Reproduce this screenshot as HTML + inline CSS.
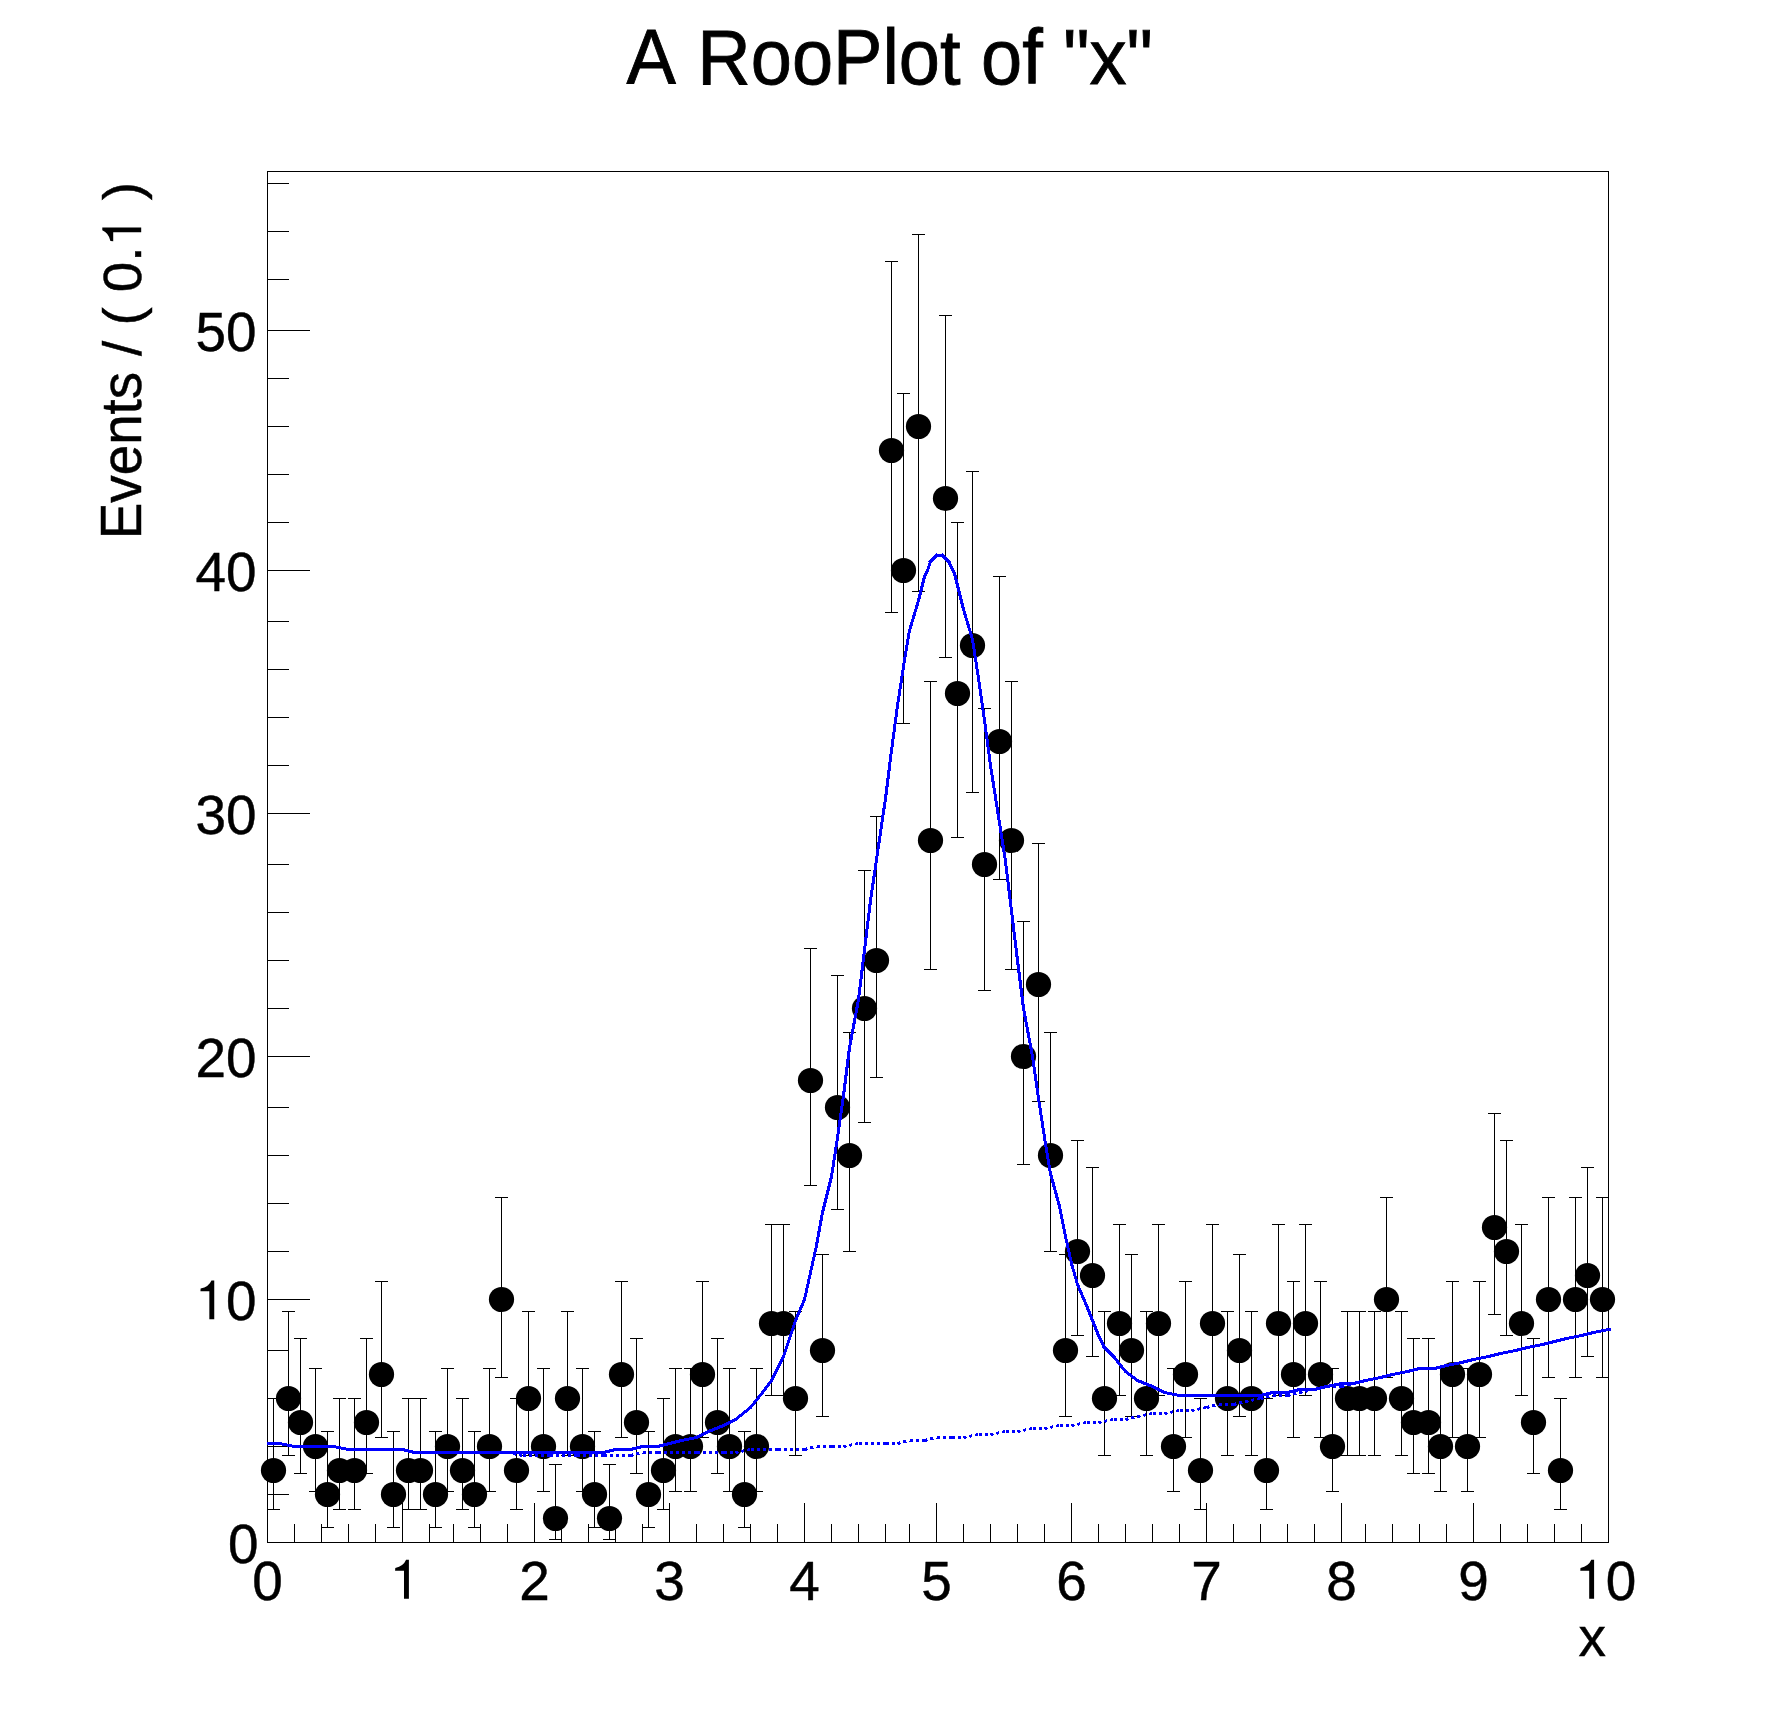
<!DOCTYPE html>
<html><head><meta charset="utf-8"><title>A RooPlot of "x"</title>
<style>html,body{margin:0;padding:0;background:#fff}body{width:1788px;height:1716px;overflow:hidden}svg{display:block}</style>
</head><body>
<svg width="1788" height="1716" viewBox="0 0 1788 1716">
<rect x="0" y="0" width="1788" height="1716" fill="#fff"/>
<g stroke="#000" stroke-width="1" fill="none" shape-rendering="crispEdges">
<rect x="267.5" y="171.5" width="1341" height="1371"/>
<path d="M267.5 1543V1503M294.5 1543V1524M321.5 1543V1524M348.5 1543V1524M375.5 1543V1524M402.5 1543V1503M429.5 1543V1524M453.5 1543V1524M480.5 1543V1524M507.5 1543V1524M534.5 1543V1503M561.5 1543V1524M588.5 1543V1524M615.5 1543V1524M642.5 1543V1524M669.5 1543V1503M696.5 1543V1524M723.5 1543V1524M750.5 1543V1524M777.5 1543V1524M804.5 1543V1503M831.5 1543V1524M858.5 1543V1524M885.5 1543V1524M909.5 1543V1524M936.5 1543V1503M963.5 1543V1524M990.5 1543V1524M1017.5 1543V1524M1044.5 1543V1524M1071.5 1543V1503M1098.5 1543V1524M1125.5 1543V1524M1152.5 1543V1524M1179.5 1543V1524M1206.5 1543V1503M1233.5 1543V1524M1260.5 1543V1524M1287.5 1543V1524M1314.5 1543V1524M1341.5 1543V1503M1365.5 1543V1524M1392.5 1543V1524M1419.5 1543V1524M1446.5 1543V1524M1473.5 1543V1503M1500.5 1543V1524M1527.5 1543V1524M1554.5 1543V1524M1581.5 1543V1524M1608.5 1543V1503M267 1542.5H310M267 1494.5H289M267 1446.5H289M267 1398.5H289M267 1350.5H289M267 1299.5H310M267 1251.5H289M267 1203.5H289M267 1155.5H289M267 1107.5H289M267 1056.5H310M267 1008.5H289M267 960.5H289M267 912.5H289M267 864.5H289M267 813.5H310M267 765.5H289M267 717.5H289M267 669.5H289M267 621.5H289M267 570.5H310M267 522.5H289M267 474.5H289M267 426.5H289M267 378.5H289M267 330.5H310M267 279.5H289M267 231.5H289M267 183.5H289M273.5 1398V1510M267 1398.5H280M267 1509.5H280M288.5 1311V1456M282 1311.5H295M282 1455.5H295M300.5 1338V1474M294 1338.5H307M294 1473.5H307M315.5 1368V1492M309 1368.5H322M309 1491.5H322M327.5 1431V1528M321 1431.5H334M321 1527.5H334M339.5 1398V1510M333 1398.5H346M333 1509.5H346M354.5 1398V1510M348 1398.5H361M348 1509.5H361M366.5 1338V1474M360 1338.5H373M360 1473.5H373M381.5 1281V1438M375 1281.5H388M375 1437.5H388M393.5 1431V1528M387 1431.5H400M387 1527.5H400M408.5 1398V1510M402 1398.5H415M402 1509.5H415M420.5 1398V1510M414 1398.5H427M414 1509.5H427M435.5 1431V1528M429 1431.5H442M429 1527.5H442M447.5 1368V1492M441 1368.5H454M441 1491.5H454M462.5 1398V1510M456 1398.5H469M456 1509.5H469M474.5 1431V1528M468 1431.5H481M468 1527.5H481M489.5 1368V1492M483 1368.5H496M483 1491.5H496M501.5 1197V1378M495 1197.5H508M495 1377.5H508M516.5 1398V1510M510 1398.5H523M510 1509.5H523M528.5 1311V1456M522 1311.5H535M522 1455.5H535M543.5 1368V1492M537 1368.5H550M537 1491.5H550M555.5 1464V1540M549 1464.5H562M549 1539.5H562M567.5 1311V1456M561 1311.5H574M561 1455.5H574M582.5 1368V1492M576 1368.5H589M576 1491.5H589M594.5 1431V1528M588 1431.5H601M588 1527.5H601M609.5 1464V1540M603 1464.5H616M603 1539.5H616M621.5 1281V1438M615 1281.5H628M615 1437.5H628M636.5 1338V1474M630 1338.5H643M630 1473.5H643M648.5 1431V1528M642 1431.5H655M642 1527.5H655M663.5 1398V1510M657 1398.5H670M657 1509.5H670M675.5 1368V1492M669 1368.5H682M669 1491.5H682M690.5 1368V1492M684 1368.5H697M684 1491.5H697M702.5 1281V1438M696 1281.5H709M696 1437.5H709M717.5 1338V1474M711 1338.5H724M711 1473.5H724M729.5 1368V1492M723 1368.5H736M723 1491.5H736M744.5 1431V1528M738 1431.5H751M738 1527.5H751M756.5 1368V1492M750 1368.5H763M750 1491.5H763M771.5 1224V1396M765 1224.5H778M765 1395.5H778M783.5 1224V1396M777 1224.5H790M777 1395.5H790M795.5 1311V1456M789 1311.5H802M789 1455.5H802M810.5 948V1186M804 948.5H817M804 1185.5H817M822.5 1254V1417M816 1254.5H829M816 1416.5H829M837.5 975V1210M831 975.5H844M831 1209.5H844M849.5 1032V1252M843 1032.5H856M843 1251.5H856M864.5 870V1123M858 870.5H871M858 1122.5H871M876.5 816V1078M870 816.5H883M870 1077.5H883M891.5 261V613M885 261.5H898M885 612.5H898M903.5 393V724M897 393.5H910M897 723.5H910M918.5 234V592M912 234.5H925M912 591.5H925M930.5 681V970M924 681.5H937M924 969.5H937M945.5 315V658M939 315.5H952M939 657.5H952M957.5 522V838M951 522.5H964M951 837.5H964M972.5 471V793M966 471.5H979M966 792.5H979M984.5 708V991M978 708.5H991M978 990.5H991M999.5 576V880M993 576.5H1006M993 879.5H1006M1011.5 681V970M1005 681.5H1018M1005 969.5H1018M1023.5 921V1165M1017 921.5H1030M1017 1164.5H1030M1038.5 843V1102M1032 843.5H1045M1032 1101.5H1045M1050.5 1032V1252M1044 1032.5H1057M1044 1251.5H1057M1065.5 1254V1417M1059 1254.5H1072M1059 1416.5H1072M1077.5 1140V1336M1071 1140.5H1084M1071 1335.5H1084M1092.5 1167V1357M1086 1167.5H1099M1086 1356.5H1099M1104.5 1311V1456M1098 1311.5H1111M1098 1455.5H1111M1119.5 1224V1396M1113 1224.5H1126M1113 1395.5H1126M1131.5 1254V1417M1125 1254.5H1138M1125 1416.5H1138M1146.5 1311V1456M1140 1311.5H1153M1140 1455.5H1153M1158.5 1224V1396M1152 1224.5H1165M1152 1395.5H1165M1173.5 1368V1492M1167 1368.5H1180M1167 1491.5H1180M1185.5 1281V1438M1179 1281.5H1192M1179 1437.5H1192M1200.5 1398V1510M1194 1398.5H1207M1194 1509.5H1207M1212.5 1224V1396M1206 1224.5H1219M1206 1395.5H1219M1227.5 1311V1456M1221 1311.5H1234M1221 1455.5H1234M1239.5 1254V1417M1233 1254.5H1246M1233 1416.5H1246M1251.5 1311V1456M1245 1311.5H1258M1245 1455.5H1258M1266.5 1398V1510M1260 1398.5H1273M1260 1509.5H1273M1278.5 1224V1396M1272 1224.5H1285M1272 1395.5H1285M1293.5 1281V1438M1287 1281.5H1300M1287 1437.5H1300M1305.5 1224V1396M1299 1224.5H1312M1299 1395.5H1312M1320.5 1281V1438M1314 1281.5H1327M1314 1437.5H1327M1332.5 1368V1492M1326 1368.5H1339M1326 1491.5H1339M1347.5 1311V1456M1341 1311.5H1354M1341 1455.5H1354M1359.5 1311V1456M1353 1311.5H1366M1353 1455.5H1366M1374.5 1311V1456M1368 1311.5H1381M1368 1455.5H1381M1386.5 1197V1378M1380 1197.5H1393M1380 1377.5H1393M1401.5 1311V1456M1395 1311.5H1408M1395 1455.5H1408M1413.5 1338V1474M1407 1338.5H1420M1407 1473.5H1420M1428.5 1338V1474M1422 1338.5H1435M1422 1473.5H1435M1440.5 1368V1492M1434 1368.5H1447M1434 1491.5H1447M1452.5 1281V1438M1446 1281.5H1459M1446 1437.5H1459M1467.5 1368V1492M1461 1368.5H1474M1461 1491.5H1474M1479.5 1281V1438M1473 1281.5H1486M1473 1437.5H1486M1494.5 1113V1315M1488 1113.5H1501M1488 1314.5H1501M1506.5 1140V1336M1500 1140.5H1513M1500 1335.5H1513M1521.5 1224V1396M1515 1224.5H1528M1515 1395.5H1528M1533.5 1338V1474M1527 1338.5H1540M1527 1473.5H1540M1548.5 1197V1378M1542 1197.5H1555M1542 1377.5H1555M1560.5 1398V1510M1554 1398.5H1567M1554 1509.5H1567M1575.5 1197V1378M1569 1197.5H1582M1569 1377.5H1582M1587.5 1167V1357M1581 1167.5H1594M1581 1356.5H1594M1602.5 1197V1378M1596 1197.5H1609M1596 1377.5H1609"/>
</g>
<g fill="#000">
<circle cx="273.5" cy="1470.5" r="12.6"/>
<circle cx="288.5" cy="1398.5" r="12.6"/>
<circle cx="300.5" cy="1422.5" r="12.6"/>
<circle cx="315.5" cy="1446.5" r="12.6"/>
<circle cx="327.5" cy="1494.5" r="12.6"/>
<circle cx="339.5" cy="1470.5" r="12.6"/>
<circle cx="354.5" cy="1470.5" r="12.6"/>
<circle cx="366.5" cy="1422.5" r="12.6"/>
<circle cx="381.5" cy="1374.5" r="12.6"/>
<circle cx="393.5" cy="1494.5" r="12.6"/>
<circle cx="408.5" cy="1470.5" r="12.6"/>
<circle cx="420.5" cy="1470.5" r="12.6"/>
<circle cx="435.5" cy="1494.5" r="12.6"/>
<circle cx="447.5" cy="1446.5" r="12.6"/>
<circle cx="462.5" cy="1470.5" r="12.6"/>
<circle cx="474.5" cy="1494.5" r="12.6"/>
<circle cx="489.5" cy="1446.5" r="12.6"/>
<circle cx="501.5" cy="1299.5" r="12.6"/>
<circle cx="516.5" cy="1470.5" r="12.6"/>
<circle cx="528.5" cy="1398.5" r="12.6"/>
<circle cx="543.5" cy="1446.5" r="12.6"/>
<circle cx="555.5" cy="1518.5" r="12.6"/>
<circle cx="567.5" cy="1398.5" r="12.6"/>
<circle cx="582.5" cy="1446.5" r="12.6"/>
<circle cx="594.5" cy="1494.5" r="12.6"/>
<circle cx="609.5" cy="1518.5" r="12.6"/>
<circle cx="621.5" cy="1374.5" r="12.6"/>
<circle cx="636.5" cy="1422.5" r="12.6"/>
<circle cx="648.5" cy="1494.5" r="12.6"/>
<circle cx="663.5" cy="1470.5" r="12.6"/>
<circle cx="675.5" cy="1446.5" r="12.6"/>
<circle cx="690.5" cy="1446.5" r="12.6"/>
<circle cx="702.5" cy="1374.5" r="12.6"/>
<circle cx="717.5" cy="1422.5" r="12.6"/>
<circle cx="729.5" cy="1446.5" r="12.6"/>
<circle cx="744.5" cy="1494.5" r="12.6"/>
<circle cx="756.5" cy="1446.5" r="12.6"/>
<circle cx="771.5" cy="1323.5" r="12.6"/>
<circle cx="783.5" cy="1323.5" r="12.6"/>
<circle cx="795.5" cy="1398.5" r="12.6"/>
<circle cx="810.5" cy="1080.5" r="12.6"/>
<circle cx="822.5" cy="1350.5" r="12.6"/>
<circle cx="837.5" cy="1107.5" r="12.6"/>
<circle cx="849.5" cy="1155.5" r="12.6"/>
<circle cx="864.5" cy="1008.5" r="12.6"/>
<circle cx="876.5" cy="960.5" r="12.6"/>
<circle cx="891.5" cy="450.5" r="12.6"/>
<circle cx="903.5" cy="570.5" r="12.6"/>
<circle cx="918.5" cy="426.5" r="12.6"/>
<circle cx="930.5" cy="840.5" r="12.6"/>
<circle cx="945.5" cy="498.5" r="12.6"/>
<circle cx="957.5" cy="693.5" r="12.6"/>
<circle cx="972.5" cy="645.5" r="12.6"/>
<circle cx="984.5" cy="864.5" r="12.6"/>
<circle cx="999.5" cy="741.5" r="12.6"/>
<circle cx="1011.5" cy="840.5" r="12.6"/>
<circle cx="1023.5" cy="1056.5" r="12.6"/>
<circle cx="1038.5" cy="984.5" r="12.6"/>
<circle cx="1050.5" cy="1155.5" r="12.6"/>
<circle cx="1065.5" cy="1350.5" r="12.6"/>
<circle cx="1077.5" cy="1251.5" r="12.6"/>
<circle cx="1092.5" cy="1275.5" r="12.6"/>
<circle cx="1104.5" cy="1398.5" r="12.6"/>
<circle cx="1119.5" cy="1323.5" r="12.6"/>
<circle cx="1131.5" cy="1350.5" r="12.6"/>
<circle cx="1146.5" cy="1398.5" r="12.6"/>
<circle cx="1158.5" cy="1323.5" r="12.6"/>
<circle cx="1173.5" cy="1446.5" r="12.6"/>
<circle cx="1185.5" cy="1374.5" r="12.6"/>
<circle cx="1200.5" cy="1470.5" r="12.6"/>
<circle cx="1212.5" cy="1323.5" r="12.6"/>
<circle cx="1227.5" cy="1398.5" r="12.6"/>
<circle cx="1239.5" cy="1350.5" r="12.6"/>
<circle cx="1251.5" cy="1398.5" r="12.6"/>
<circle cx="1266.5" cy="1470.5" r="12.6"/>
<circle cx="1278.5" cy="1323.5" r="12.6"/>
<circle cx="1293.5" cy="1374.5" r="12.6"/>
<circle cx="1305.5" cy="1323.5" r="12.6"/>
<circle cx="1320.5" cy="1374.5" r="12.6"/>
<circle cx="1332.5" cy="1446.5" r="12.6"/>
<circle cx="1347.5" cy="1398.5" r="12.6"/>
<circle cx="1359.5" cy="1398.5" r="12.6"/>
<circle cx="1374.5" cy="1398.5" r="12.6"/>
<circle cx="1386.5" cy="1299.5" r="12.6"/>
<circle cx="1401.5" cy="1398.5" r="12.6"/>
<circle cx="1413.5" cy="1422.5" r="12.6"/>
<circle cx="1428.5" cy="1422.5" r="12.6"/>
<circle cx="1440.5" cy="1446.5" r="12.6"/>
<circle cx="1452.5" cy="1374.5" r="12.6"/>
<circle cx="1467.5" cy="1446.5" r="12.6"/>
<circle cx="1479.5" cy="1374.5" r="12.6"/>
<circle cx="1494.5" cy="1227.5" r="12.6"/>
<circle cx="1506.5" cy="1251.5" r="12.6"/>
<circle cx="1521.5" cy="1323.5" r="12.6"/>
<circle cx="1533.5" cy="1422.5" r="12.6"/>
<circle cx="1548.5" cy="1299.5" r="12.6"/>
<circle cx="1560.5" cy="1470.5" r="12.6"/>
<circle cx="1575.5" cy="1299.5" r="12.6"/>
<circle cx="1587.5" cy="1275.5" r="12.6"/>
<circle cx="1602.5" cy="1299.5" r="12.6"/>
</g>
<clipPath id="c"><rect x="267" y="171.5" width="1344" height="1371"/></clipPath>
<g clip-path="url(#c)" stroke="#0000ff" stroke-width="3" fill="none" stroke-linejoin="bevel" shape-rendering="crispEdges">
<path stroke-linecap="square" d="M267.5 1443.5L279.5 1443.5M279.5 1443.5L294.5 1446.5M294.5 1446.5L306.5 1446.5M306.5 1446.5L321.5 1446.5M321.5 1446.5L333.5 1446.5M333.5 1446.5L348.5 1449.5M348.5 1449.5L360.5 1449.5M360.5 1449.5L375.5 1449.5M375.5 1449.5L387.5 1449.5M387.5 1449.5L402.5 1449.5M402.5 1449.5L414.5 1452.5M414.5 1452.5L429.5 1452.5M429.5 1452.5L441.5 1452.5M441.5 1452.5L453.5 1452.5M453.5 1452.5L468.5 1452.5M468.5 1452.5L480.5 1452.5M480.5 1452.5L495.5 1452.5M495.5 1452.5L507.5 1452.5M507.5 1452.5L522.5 1452.5M522.5 1452.5L534.5 1452.5M534.5 1452.5L549.5 1452.5M549.5 1452.5L561.5 1452.5M561.5 1452.5L576.5 1452.5M576.5 1452.5L588.5 1452.5M588.5 1452.5L603.5 1452.5M603.5 1452.5L615.5 1449.5M615.5 1449.5L630.5 1449.5M630.5 1449.5L642.5 1446.5M642.5 1446.5L657.5 1446.5M657.5 1446.5L669.5 1443.5M669.5 1443.5L681.5 1440.5M681.5 1440.5L696.5 1437.5M696.5 1437.5L708.5 1431.5M708.5 1431.5L723.5 1425.5M723.5 1425.5L735.5 1419.5M735.5 1419.5L750.5 1407.5M750.5 1407.5L762.5 1392.5M762.5 1392.5L771.5 1380.5M771.5 1380.5L777.5 1368.5M777.5 1368.5L783.5 1356.5M783.5 1356.5L789.5 1338.5M789.5 1338.5L795.5 1320.5M795.5 1320.5L804.5 1299.5M804.5 1299.5L810.5 1272.5M810.5 1272.5L816.5 1245.5M816.5 1245.5L822.5 1212.5M822.5 1212.5L831.5 1176.5M831.5 1176.5L837.5 1137.5M837.5 1137.5L843.5 1095.5M843.5 1095.5L849.5 1047.5M849.5 1047.5L858.5 999.5M858.5 999.5L870.5 900.5M870.5 900.5L885.5 798.5M885.5 798.5L891.5 750.5M891.5 750.5L897.5 705.5M897.5 705.5L903.5 666.5M903.5 666.5L909.5 630.5M909.5 630.5L918.5 600.5M918.5 600.5L921.5 588.5M921.5 588.5L924.5 576.5M924.5 576.5L927.5 570.5M927.5 570.5L930.5 561.5M930.5 561.5L933.5 558.5M933.5 558.5L936.5 555.5M936.5 555.5L942.5 555.5M942.5 555.5L945.5 558.5M945.5 558.5L948.5 561.5M948.5 561.5L951.5 567.5M951.5 567.5L954.5 573.5M954.5 573.5L957.5 585.5M957.5 585.5L963.5 609.5M963.5 609.5L972.5 639.5M972.5 639.5L978.5 678.5M978.5 678.5L984.5 720.5M984.5 720.5L990.5 765.5M990.5 765.5L1005.5 861.5M1005.5 861.5L1017.5 960.5M1017.5 960.5L1023.5 1008.5M1023.5 1008.5L1032.5 1056.5M1032.5 1056.5L1038.5 1098.5M1038.5 1098.5L1044.5 1137.5M1044.5 1137.5L1050.5 1173.5M1050.5 1173.5L1059.5 1206.5M1059.5 1206.5L1065.5 1236.5M1065.5 1236.5L1071.5 1263.5M1071.5 1263.5L1077.5 1284.5M1077.5 1284.5L1086.5 1305.5M1086.5 1305.5L1092.5 1320.5M1092.5 1320.5L1098.5 1335.5M1098.5 1335.5L1104.5 1347.5M1104.5 1347.5L1113.5 1356.5M1113.5 1356.5L1125.5 1371.5M1125.5 1371.5L1137.5 1380.5M1137.5 1380.5L1152.5 1386.5M1152.5 1386.5L1164.5 1392.5M1164.5 1392.5L1179.5 1395.5M1179.5 1395.5L1191.5 1395.5M1191.5 1395.5L1206.5 1395.5M1206.5 1395.5L1218.5 1395.5M1218.5 1395.5L1233.5 1395.5M1233.5 1395.5L1245.5 1395.5M1245.5 1395.5L1260.5 1395.5M1260.5 1395.5L1272.5 1392.5M1272.5 1392.5L1287.5 1392.5M1287.5 1392.5L1299.5 1389.5M1299.5 1389.5L1314.5 1389.5M1314.5 1389.5L1326.5 1386.5M1326.5 1386.5L1341.5 1383.5M1341.5 1383.5L1353.5 1383.5M1353.5 1383.5L1365.5 1380.5M1365.5 1380.5L1380.5 1377.5M1380.5 1377.5L1392.5 1374.5M1392.5 1374.5L1407.5 1371.5M1407.5 1371.5L1419.5 1368.5M1419.5 1368.5L1434.5 1368.5M1434.5 1368.5L1446.5 1365.5M1446.5 1365.5L1461.5 1362.5M1461.5 1362.5L1473.5 1359.5M1473.5 1359.5L1488.5 1356.5M1488.5 1356.5L1500.5 1353.5M1500.5 1353.5L1515.5 1350.5M1515.5 1350.5L1527.5 1347.5M1527.5 1347.5L1542.5 1344.5M1542.5 1344.5L1554.5 1341.5M1554.5 1341.5L1566.5 1338.5M1566.5 1338.5L1581.5 1335.5M1581.5 1335.5L1593.5 1332.5M1593.5 1332.5L1608.5 1329.5M1608.5 1329.5L1609.5 1329.3"/>
<path stroke-dasharray="3 3" d="M267.5 1443.5L279.5 1443.5M279.5 1443.5L294.5 1446.5M294.5 1446.5L306.5 1446.5M306.5 1446.5L321.5 1446.5M321.5 1446.5L333.5 1446.5M333.5 1446.5L348.5 1449.5M348.5 1449.5L360.5 1449.5M360.5 1449.5L375.5 1449.5M375.5 1449.5L387.5 1449.5M387.5 1449.5L402.5 1449.5M402.5 1449.5L414.5 1452.5M414.5 1452.5L429.5 1452.5M429.5 1452.5L441.5 1452.5M441.5 1452.5L453.5 1452.5M453.5 1452.5L468.5 1452.5M468.5 1452.5L480.5 1452.5M480.5 1452.5L495.5 1452.5M495.5 1452.5L507.5 1452.5M507.5 1452.5L522.5 1455.5M522.5 1455.5L534.5 1455.5M534.5 1455.5L549.5 1455.5M549.5 1455.5L561.5 1455.5M561.5 1455.5L576.5 1455.5M576.5 1455.5L588.5 1455.5M588.5 1455.5L603.5 1455.5M603.5 1455.5L615.5 1455.5M615.5 1455.5L630.5 1455.5M630.5 1455.5L642.5 1452.5M642.5 1452.5L657.5 1452.5M657.5 1452.5L669.5 1452.5M669.5 1452.5L681.5 1452.5M681.5 1452.5L696.5 1452.5M696.5 1452.5L708.5 1452.5M708.5 1452.5L723.5 1452.5M723.5 1452.5L735.5 1452.5M735.5 1452.5L750.5 1449.5M750.5 1449.5L762.5 1449.5M762.5 1449.5L777.5 1449.5M777.5 1449.5L789.5 1449.5M789.5 1449.5L804.5 1449.5M804.5 1449.5L816.5 1446.5M816.5 1446.5L831.5 1446.5M831.5 1446.5L843.5 1446.5M843.5 1446.5L858.5 1443.5M858.5 1443.5L870.5 1443.5M870.5 1443.5L885.5 1443.5M885.5 1443.5L897.5 1443.5M897.5 1443.5L909.5 1440.5M909.5 1440.5L924.5 1440.5M924.5 1440.5L936.5 1437.5M936.5 1437.5L951.5 1437.5M951.5 1437.5L963.5 1437.5M963.5 1437.5L978.5 1434.5M978.5 1434.5L990.5 1434.5M990.5 1434.5L1005.5 1431.5M1005.5 1431.5L1017.5 1431.5M1017.5 1431.5L1032.5 1428.5M1032.5 1428.5L1044.5 1428.5M1044.5 1428.5L1059.5 1425.5M1059.5 1425.5L1071.5 1425.5M1071.5 1425.5L1086.5 1422.5M1086.5 1422.5L1098.5 1422.5M1098.5 1422.5L1113.5 1419.5M1113.5 1419.5L1125.5 1419.5M1125.5 1419.5L1137.5 1416.5M1137.5 1416.5L1152.5 1413.5M1152.5 1413.5L1164.5 1413.5M1164.5 1413.5L1179.5 1410.5M1179.5 1410.5L1191.5 1410.5M1191.5 1410.5L1206.5 1407.5M1206.5 1407.5L1218.5 1404.5M1218.5 1404.5L1233.5 1404.5M1233.5 1404.5L1245.5 1401.5M1245.5 1401.5L1260.5 1398.5M1260.5 1398.5L1272.5 1395.5M1272.5 1395.5L1287.5 1395.5M1287.5 1395.5L1299.5 1392.5M1299.5 1392.5L1314.5 1389.5M1314.5 1389.5L1326.5 1386.5M1326.5 1386.5L1341.5 1386.5M1341.5 1386.5L1353.5 1383.5M1353.5 1383.5L1365.5 1380.5M1365.5 1380.5L1380.5 1377.5M1380.5 1377.5L1392.5 1374.5M1392.5 1374.5L1407.5 1371.5M1407.5 1371.5L1419.5 1368.5M1419.5 1368.5L1434.5 1368.5M1434.5 1368.5L1446.5 1365.5M1446.5 1365.5L1461.5 1362.5M1461.5 1362.5L1473.5 1359.5M1473.5 1359.5L1488.5 1356.5M1488.5 1356.5L1500.5 1353.5M1500.5 1353.5L1515.5 1350.5M1515.5 1350.5L1527.5 1347.5M1527.5 1347.5L1542.5 1344.5M1542.5 1344.5L1554.5 1341.5M1554.5 1341.5L1566.5 1338.5M1566.5 1338.5L1581.5 1335.5M1581.5 1335.5L1593.5 1332.5M1593.5 1332.5L1608.5 1329.5"/>
</g>
<g font-family="'Liberation Sans', sans-serif" fill="#000">
<text transform="translate(626.5,84.3) scale(1,1.05)" font-size="74" text-anchor="start" stroke="#000" stroke-width="0.8">A</text>
<text transform="translate(697.3,84.3) scale(1,1.05)" font-size="74" text-anchor="start" stroke="#000" stroke-width="0.8">RooPlot of &quot;x&quot;</text>
<text transform="translate(267.5,1599.8) scale(0.98,0.975)" font-size="56" text-anchor="middle" stroke="#000" stroke-width="0.45">0</text>
<path transform="translate(408.9,1598.7) scale(1.00129)" d="M0,0H-4.9V-27.95H-13.8L-13.6,-30.75Q-5.4,-32.45 -2.8,-38.85H0Z"/>
<text transform="translate(534.5,1599.8) scale(0.98,0.975)" font-size="56" text-anchor="middle" stroke="#000" stroke-width="0.45">2</text>
<text transform="translate(669.5,1599.8) scale(0.98,0.975)" font-size="56" text-anchor="middle" stroke="#000" stroke-width="0.45">3</text>
<text transform="translate(804.5,1599.8) scale(0.98,0.975)" font-size="56" text-anchor="middle" stroke="#000" stroke-width="0.45">4</text>
<text transform="translate(936.5,1599.8) scale(0.98,0.975)" font-size="56" text-anchor="middle" stroke="#000" stroke-width="0.45">5</text>
<text transform="translate(1071.5,1599.8) scale(0.98,0.975)" font-size="56" text-anchor="middle" stroke="#000" stroke-width="0.45">6</text>
<text transform="translate(1206.5,1599.8) scale(0.98,0.975)" font-size="56" text-anchor="middle" stroke="#000" stroke-width="0.45">7</text>
<text transform="translate(1341.5,1599.8) scale(0.98,0.975)" font-size="56" text-anchor="middle" stroke="#000" stroke-width="0.45">8</text>
<text transform="translate(1473.5,1599.8) scale(0.98,0.975)" font-size="56" text-anchor="middle" stroke="#000" stroke-width="0.45">9</text>
<text transform="translate(1620.9,1599.8) scale(0.98,0.975)" font-size="56" text-anchor="middle" stroke="#000" stroke-width="0.45">0</text>
<path transform="translate(1594.1,1598.7) scale(1.00129)" d="M0,0H-4.9V-27.95H-13.8L-13.6,-30.75Q-5.4,-32.45 -2.8,-38.85H0Z"/>
<text transform="translate(258.5,1563.4) scale(0.98,0.975)" font-size="56" text-anchor="end" stroke="#000" stroke-width="0.45">0</text>
<text transform="translate(256.5,1320.4) scale(0.98,0.975)" font-size="56" text-anchor="end" stroke="#000" stroke-width="0.45">0</text>
<path transform="translate(214.25,1319.3) scale(1.00129)" d="M0,0H-4.9V-27.95H-13.8L-13.6,-30.75Q-5.4,-32.45 -2.8,-38.85H0Z"/>
<text transform="translate(256.5,1077.4) scale(0.98,0.975)" font-size="56" text-anchor="end" stroke="#000" stroke-width="0.45">20</text>
<text transform="translate(256.5,834.4) scale(0.98,0.975)" font-size="56" text-anchor="end" stroke="#000" stroke-width="0.45">30</text>
<text transform="translate(256.5,591.4) scale(0.98,0.975)" font-size="56" text-anchor="end" stroke="#000" stroke-width="0.45">40</text>
<text transform="translate(256.5,351.4) scale(0.98,0.975)" font-size="56" text-anchor="end" stroke="#000" stroke-width="0.45">50</text>
<text transform="translate(1606,1656.2) scale(0.98,0.975)" font-size="56" text-anchor="end" stroke="#000" stroke-width="0.45">x</text>
<text transform="translate(141.2,539.2) rotate(-90) scale(0.978,1.013)" font-size="56" text-anchor="start" stroke="#000" stroke-width="0.45">Events</text>
<text transform="translate(141.2,246.5) rotate(-90) scale(0.978,0.975)" font-size="56" text-anchor="end" stroke="#000" stroke-width="0.45">/ ( 0.</text>
<path transform="translate(141.2,227.4) rotate(-90) scale(1.00129)" d="M0,0H-4.9V-27.95H-13.8L-13.6,-30.75Q-5.4,-32.45 -2.8,-38.85H0Z"/>
<text transform="translate(141.2,182.1) rotate(-90) scale(0.978,0.975)" font-size="56" text-anchor="end" stroke="#000" stroke-width="0.45">)</text>
</g>
</svg>
</body></html>
